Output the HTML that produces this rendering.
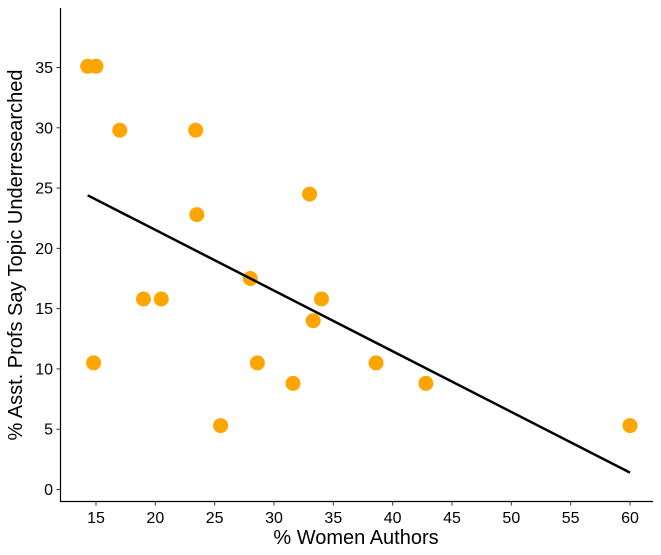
<!DOCTYPE html>
<html><head><meta charset="utf-8"><style>
body{margin:0;background:#fff;font-family:"Liberation Sans",sans-serif}
svg text{font-family:"Liberation Sans",sans-serif}
</style></head><body>
<svg id="chart" width="661" height="550" xmlns="http://www.w3.org/2000/svg"></svg>
<script>
const womenPct=[14.3,15,17,23.4,33,23.5,28,19,20.5,34,33.3,14.8,28.6,38.6,31.6,42.8,25.5,60];
const profsPct=[35.1,35.1,29.8,29.8,24.5,22.8,17.5,15.8,15.8,15.8,14,10.5,10.5,10.5,8.8,8.8,5.3,5.3];
const xTicks=[15,20,25,30,35,40,45,50,55,60];
const yTicks=[0,5,10,15,20,25,30,35];
const fitX=[14.3,60];
const fitY=[24.4,1.4];
const NS="http://www.w3.org/2000/svg";
const svg=document.getElementById('chart');
const xs=v=>96+(v-15)*(630-96)/45;
const ys=v=>489.5-v*(489.5-67.5)/35;
function mk(t,a){const e=document.createElementNS(NS,t);for(const k in a)e.setAttribute(k,a[k]);svg.appendChild(e);return e;}
let e=mk('line',{x1:60.5,y1:8,x2:60.5,y2:501.5,stroke:'#000','stroke-width':1.2});


e=mk('line',{x1:60,y1:501.5,x2:653,y2:501.5,stroke:'#000','stroke-width':1.2});


xTicks.forEach(t=>{
 let l=mk('line',{x1:xs(t),x2:xs(t),y1:501.5,y2:505.5,stroke:'#333'});
 
 
 let tx=mk('text',{x:xs(t),y:523,'text-anchor':'middle','font-size':16,fill:'#000'});
 tx.textContent=t;
 
 
});
yTicks.forEach(t=>{
 let l=mk('line',{x1:56.5,x2:60.5,y1:ys(t),y2:ys(t),stroke:'#333'});
 
 
 let tx=mk('text',{x:53,y:ys(t)+5.5,'text-anchor':'end','font-size':16,fill:'#000'});
 tx.textContent=t;
 
 
});
womenPct.forEach((v,i)=>{
 let c=mk('circle',{cx:xs(v),cy:ys(profsPct[i]),r:7.5,fill:'#FFA500'});
 
 
});
e=mk('line',{x1:xs(fitX[0]),y1:ys(fitY[0]),x2:xs(fitX[1]),y2:ys(fitY[1]),stroke:'#000','stroke-width':2.5});


e=mk('text',{x:356,y:544,'text-anchor':'middle','font-size':20,fill:'#000'});
e.textContent='% Women Authors';


e=mk('text',{x:0,y:0,'text-anchor':'middle','font-size':20,fill:'#000',transform:'translate(22,255) rotate(-90)'});
e.textContent='% Asst. Profs Say Topic Underresearched';


</script>
</body></html>
